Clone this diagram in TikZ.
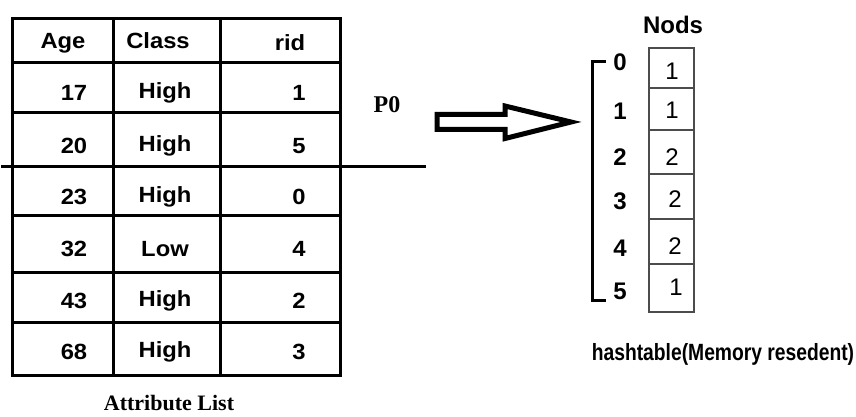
\documentclass[tikz,border=0pt]{standalone}
\usepackage{fontspec}
\setmainfont{Liberation Sans}
\newfontfamily\tabfont[FakeStretch=1.08]{Liberation Sans}
\newfontfamily\serifb{Liberation Serif}
\newfontfamily\narrowsans[FakeStretch=0.82]{Liberation Sans}
\begin{document}
\begin{tikzpicture}[x=1pt,y=-1pt,
  tabline/.style={line width=3pt, line cap=rect},
  cell/.style={inner sep=0pt, font=\tabfont\bfseries\fontsize{22}{24}\selectfont},
  idx/.style={inner sep=0pt, font=\bfseries\fontsize{24}{26}\selectfont},
  val/.style={inner sep=0pt, font=\fontsize{24}{26}\selectfont},
  slot/.style={draw=black!70, line width=1.4pt},
  title/.style={inner sep=0pt, font=\bfseries\fontsize{24}{26}\selectfont}]
\useasboundingbox (0,0) rectangle (856,417);
% ---- attribute list table ----
\draw[tabline] (12,19) rectangle (340,375);
\foreach \x in {113,220} \draw[tabline] (\x,19) -- (\x,375);
\foreach \y in {63,113,215,272,322} \draw[tabline] (12,\y) -- (340,\y);
\draw[tabline] (2,166) -- (424,166);
% header
\node[cell] (hAge) at (63,43) {Age};
\node[cell] (hClass) at (158,41) {Class};
\node[cell] (hRid) at (290,43) {rid};
% rows
\foreach \i/\a/\c/\r/\y in {1/17/High/1/93, 2/20/High/5/146, 3/23/High/0/197, 4/32/Low/4/249, 5/43/High/2/301, 6/68/High/3/352}{
  \node[cell] (age\i) at (74,\y) {\a};
  \node[cell] (cls\i) at (165,\y) {\c};
  \node[cell] (rid\i) at (299,\y) {\r};
}
\node[inner sep=0pt, font=\serifb\bfseries\fontsize{22}{24}\selectfont] (attr) at (169,403) {Attribute List};
% ---- P0 and hollow arrow ----
\node[inner sep=0pt, font=\serifb\bfseries\fontsize{24}{26}\selectfont] (p0) at (387,105) {P0};
\draw[line width=5pt, line join=miter] (437,114.5) -- (505,114.5) -- (505,106) -- (571,122) -- (505,138.5) -- (505,129.5) -- (437,129.5) -- cycle;
% ---- hashtable ----
\node[title] (nods) at (673,25) {Nods};
\draw[line width=3pt] (606,62) -- (592,62) -- (592,300) -- (606,300);
\foreach \i/\y in {0/62,1/111,2/157,3/201,4/248,5/291}
  \node[idx] (i\i) at (620,\y) {\i};
\draw[slot] (649,48) rectangle (694,312);
\foreach \y in {88,130,174,219,264} \draw[slot] (649,\y) -- (694,\y);
\foreach \i/\v/\x/\y in {0/1/672/71, 1/1/672/110, 2/2/672/157, 3/2/675/199, 4/2/675/246, 5/1/676/287}
  \node[val] (v\i) at (\x,\y) {\v};
\node[inner sep=0pt, font=\narrowsans\bfseries\fontsize{23.5}{25}\selectfont] (ht) at (723,354) {hashtable(Memory resedent)};
\end{tikzpicture}
\end{document}
